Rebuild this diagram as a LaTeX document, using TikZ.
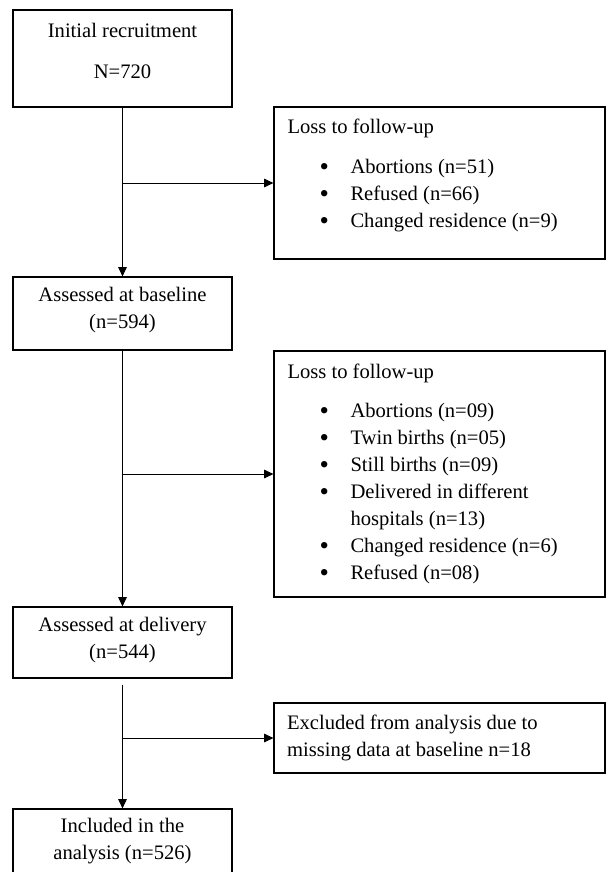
\documentclass[tikz,border=0pt]{standalone}
\usepackage{fontspec}
\setmainfont{Liberation Serif}
\usetikzlibrary{arrows.meta}

\tikzset{every picture/.style={line width=0.75pt}}
\tikzset{
  every node/.style={font=\fontsize{15.45pt}{20.25pt}\selectfont},
  flowbox/.style={draw, line width=0.9pt, minimum width=164.25pt, inner sep=0pt},
  lossbox/.style={draw, line width=0.9pt, minimum width=248.25pt, inner sep=0pt},
  conn/.style={line width=0.6pt, -{Triangle[length=7pt,width=6.5pt]}},
}
\newcommand{\lossitem}{\raisebox{-1pt}{\fontsize{20pt}{20pt}\selectfont\textbullet} &}

\begin{document}
\begin{tikzpicture}[x=0.75pt,y=0.75pt,yscale=-1,xscale=1]
\useasboundingbox (0,0) rectangle (606,872);

%Shape: Rectangle [id:b1]
\node [flowbox, minimum height=72.75pt] (b1) at (122.5,58.5) {};
%Shape: Rectangle [id:b2]
\node [flowbox, minimum height=54.75pt] (b2) at (122.5,313.5) {};
%Shape: Rectangle [id:b3]
\node [flowbox, minimum height=53.25pt] (b3) at (122.5,642.5) {};
%Shape: Rectangle [id:b4]
\node [flowbox, minimum height=60.75pt] (b4) at (122.5,849.5) {};
%Shape: Rectangle [id:l1]
\node [lossbox, minimum height=114pt] (l1) at (439.5,183) {};
%Shape: Rectangle [id:l2]
\node [lossbox, minimum height=184.5pt] (l2) at (439.5,474) {};
%Shape: Rectangle [id:ex]
\node [lossbox, minimum height=52.5pt] (ex) at (439.5,738) {};

%Straight Lines [id:b1-b2]
\draw [conn] (b1.south) -- (b2.north) ;
\draw [conn] (b1.south |- l1.west) -- (l1.west) ;
%Straight Lines [id:b2-b3]
\draw [conn] (b2.south) -- (b3.north) ;
\draw [conn] (b2.south |- l2.west) -- (l2.west) ;
%Straight Lines [id:b3-b4]
\draw [conn, shorten <=4.5pt] (b3.south) -- (b4.north) ;
\draw [conn] (b3.south |- ex.west) -- (ex.west) ;

% Text Node
\draw (122.5,50.5) node [align=center][inner sep=0pt] (t1) {Initial recruitment\\[10.5pt]N=720};
% Text Node
\draw (122.5,310) node [align=center][inner sep=0pt] (t2) {Assessed at baseline\\(n=594)};
% Text Node
\draw (122.5,640.5) node [align=center][inner sep=0pt] (t3) {Assessed at delivery\\(n=544)};
% Text Node
\draw (122.5,841.5) node [align=center][inner sep=0pt] (t4) {Included in the\\analysis (n=526)};
% Text Node
\draw (287,133) node [anchor=base west][inner sep=0pt] (l1title) {Loss to follow-up};
% Text Node
\draw (319,154.5) node [anchor=north west][inner sep=0pt] (l1list) {%
  \begin{tabular}{@{}p{23.25pt}@{}l@{}}
  \lossitem Abortions (n=51)\\
  \lossitem Refused (n=66)\\
  \lossitem Changed residence (n=9)
  \end{tabular}};
% Text Node
\draw (287,378) node [anchor=base west][inner sep=0pt] (l2title) {Loss to follow-up};
% Text Node
\draw (319,398.5) node [anchor=north west][inner sep=0pt] (l2list) {%
  \begin{tabular}{@{}p{23.25pt}@{}l@{}}
  \lossitem Abortions (n=09)\\
  \lossitem Twin births (n=05)\\
  \lossitem Still births (n=09)\\
  \lossitem Delivered in different\\
   & hospitals (n=13)\\
  \lossitem Changed residence (n=6)\\
  \lossitem Refused (n=08)
  \end{tabular}};
% Text Node
\draw (286.5,738) node [anchor=west][align=left][inner sep=0pt] (extext) {Excluded from analysis due to\\missing data at baseline n=18};

\end{tikzpicture}
\end{document}
